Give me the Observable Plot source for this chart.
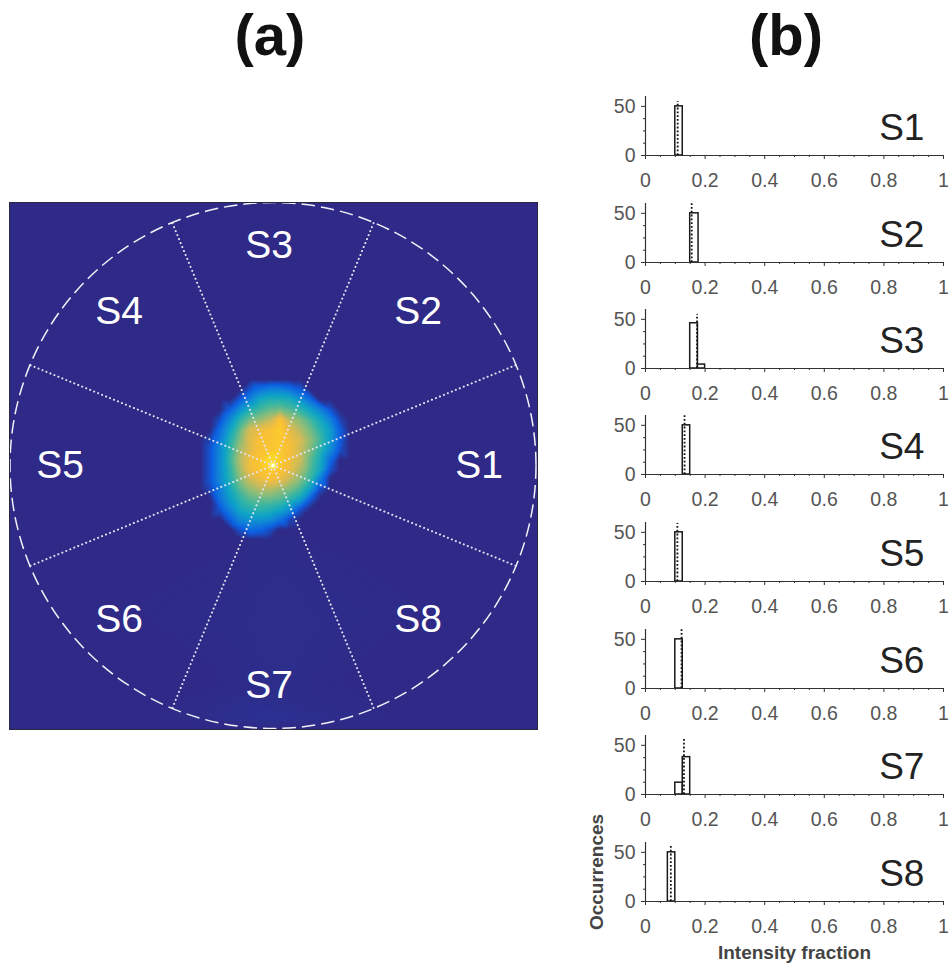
<!DOCTYPE html>
<html><head><meta charset="utf-8">
<script src="https://cdn.jsdelivr.net/npm/d3@7"></script>
<script src="https://cdn.jsdelivr.net/npm/@observablehq/plot@0.6"></script>
<style>
html,body{margin:0;padding:0;background:#fff;}
#page{position:relative;width:949px;height:966px;overflow:hidden;font-family:"Liberation Sans",Arial,sans-serif;}
.hd{position:absolute;top:2px;width:120px;text-align:center;font-weight:bold;font-size:58px;line-height:66px;color:#111;}
.abs{position:absolute;}
svg{overflow:visible;}
</style></head><body><div id="page">
<div class="hd" style="left:210px">(a)</div>
<div class="hd" style="left:726px">(b)</div>
</div>
<script>
// Heat map samples, image coordinates (pixels of the 527x527 detector picture)
const gridX=[190,200,210,220,230,240,250,260,270,280,290,300,310,320,330,340];
const gridY=[177,187,197,207,217,227,237,247,257,267,277,287,297,307,317,327,337];
const gridRows=[
[0,0,0,0,0,0,0,0,0,0,0,0,0,0,0,0],
[0,0,0,0,0,8,16,20,20,16,10,0,0,0,0,0],
[0,0,0,0,9,20,32,36,36,34,25,14,0,0,0,0],
[0,0,0,10,24,36,42,46,48,44,38,30,20,8,0,0],
[0,0,7,22,38,48,52,58,72,56,50,42,32,20,5,0],
[0,0,14,30,46,62,66,70,78,64,56,48,38,28,10,0],
[0,5,18,36,50,64,72,72,76,68,62,52,42,28,10,0],
[0,8,22,38,54,64,72,74,76,70,60,50,38,24,7,0],
[0,8,22,40,56,68,74,88,78,68,60,46,34,14,0,0],
[0,8,22,38,54,68,74,78,74,66,56,44,32,8,0,0],
[0,8,22,36,50,60,66,70,66,58,50,40,18,0,0,0],
[0,5,18,32,44,52,56,56,52,48,42,28,6,0,0,0],
[0,0,15,28,38,44,46,46,44,38,30,10,0,0,0,0],
[0,0,8,20,32,36,38,36,32,24,8,0,0,0,0,0],
[0,0,0,10,22,26,26,24,16,5,0,0,0,0,0,0],
[0,0,0,0,8,14,12,7,0,0,0,0,0,0,0,0],
[0,0,0,0,0,0.4,0.4,0.4,0.4,0.4,0.3,0,0,0,0,0]];
const farX=[0,263,527,0,527,0,263,527,100,430,100,430,200,345,200,345,240,310,280,170,360,263,180,263,350,263,130,395];
const farY=[0,0,0,263,263,527,527,527,100,100,400,400,342,342,480,480,420,420,380,490,490,495,515,515,515,527,520,520];
const farV=[0,0,0,0,0,0,0,0,0,0,0,0,0,0,0,0,.5,.5,.5,0,0,.5,.3,1.3,.3,1,0,0];
const colorStops=[0,10,20,30,40,50,60,70,80,100];
const colorRange=["#2f2a87","#0c5fe2","#1183d8","#0ea4c6","#35b5a4","#86bd7c","#d0bb58","#f8bf38","#fdd02a","#fbf020"];
const rimAngles=[22.5,67.5,112.5,157.5,202.5,247.5,292.5,337.5];
const centerXY=263, radius=263;
const sectorNames=["S1","S2","S3","S4","S5","S6","S7","S8"];
const sectorX=[469,408,259,109,50,109,259,408];
const sectorY=[263,109,43,109,263,417,483,417];

// Histograms
const barLeft=[[0.1],[0.15],[0.15,0.176],[0.125],[0.1],[0.1],[0.1,0.125],[0.075]];
const barRight=[[0.125],[0.178],[0.176,0.2],[0.15],[0.125],[0.125],[0.125,0.15],[0.1]];
const barCount=[[50],[50],[46,4],[50],[50],[50],[12,38],[50]];
const meanValue=[0.108,0.155,0.173,0.131,0.107,0.121,0.129,0.085];
const meanTop=[55,60,55,60,59,60,58,56];
const baselines=[154.5,261.5,367.5,474,581,687.5,794,901];
const xMajor=[0,0.2,0.4,0.6,0.8,1];
const xMinor=[0.05,0.1,0.15,0.25,0.3,0.35,0.45,0.5,0.55,0.65,0.7,0.75,0.85,0.9,0.95];
const yMajor=[0,50];
const yMinor=[12.5,25,37.5];

const page=document.getElementById("page");
const grid=[];
gridRows.forEach((row,j)=>row.forEach((v,i)=>grid.push({x:gridX[i],y:gridY[j],v})));
farX.forEach((x,i)=>grid.push({x,y:farY[i],v:farV[i]}));
const rims=rimAngles.map(a=>({a}));

const heat=Plot.plot({
  width:528,height:527,margin:0,
  style:{background:"transparent",fontFamily:"Liberation Sans"},
  x:{domain:[0,527],range:[0.5,527.5],axis:null},
  y:{domain:[527,0],range:[526.5,0.5],axis:null},
  color:{type:"linear",domain:colorStops,range:colorRange,interpolate:"rgb"},
  marks:[
    Plot.raster(grid,{x:"x",y:"y",fill:"v",interpolate:"barycentric",pixelSize:1}),
    Plot.link(rims,{x1:()=>centerXY,y1:()=>centerXY,
      x2:d=>centerXY+radius*Math.cos(d.a*Math.PI/180),
      y2:d=>centerXY+radius*Math.sin(d.a*Math.PI/180),
      stroke:"#e4e4f2",strokeWidth:2,strokeDasharray:"0.1 4.2",strokeLinecap:"round"}),
    Plot.dot([{x:centerXY,y:centerXY}],{x:"x",y:"y",r:radius,stroke:"#f2f2f8",strokeWidth:1.5,strokeDasharray:"13.5 6"}),
    Plot.dot([{x:centerXY,y:centerXY}],{x:"x",y:"y",r:2.4,fill:"#fffff0",stroke:"#fff060",strokeWidth:1.2}),
    Plot.text(sectorNames,{x:(d,i)=>sectorX[i],y:(d,i)=>sectorY[i],text:d=>d,fill:"#fff",fontSize:39}),
    Plot.frame({stroke:"#2a2a3a",strokeWidth:1})
  ]
});
heat.classList.add("abs");heat.style.left="8.5px";heat.style.top="201.5px";
page.appendChild(heat);

sectorNames.forEach((name,k)=>{
  const last=k===7;
  const bars=barLeft[k].map((l,i)=>({l,r:barRight[k][i],n:barCount[k][i]}));
  const mt=8,mb=last?70:34,ph=59;
  const extras=last?[
    Plot.text(["Intensity fraction"],{frameAnchor:"bottom",text:d=>d,fontSize:19,fontWeight:"bold",fill:"#444",dy:57,dx:0}),
    Plot.text(["Occurrences"],{frameAnchor:"left",text:d=>d,fontSize:19,fontWeight:"bold",fill:"#444",rotate:-90,dx:-49,dy:0,textAnchor:"middle",lineAnchor:"middle"})
  ]:[];
  const p=Plot.plot({
    width:369,height:mt+ph+mb,marginLeft:65,marginRight:6,marginTop:mt,marginBottom:mb,
    style:{background:"transparent",fontFamily:"Liberation Sans"},
    x:{domain:[0,1],axis:null},
    y:{domain:[0,60],axis:null},
    marks:[
      Plot.rect(bars,{x1:"l",x2:"r",y1:()=>0,y2:"n",fill:"#fff",stroke:"#1a1a1a",strokeWidth:1.5}),
      Plot.ruleX([meanValue[k]],{y1:0,y2:meanTop[k],stroke:"#111",strokeWidth:1.8,strokeDasharray:"1.8 2"}),
      Plot.ruleY([0],{stroke:"#333",strokeWidth:1.2}),
      Plot.ruleX([0],{stroke:"#333",strokeWidth:1.2}),
      Plot.axisX({ticks:xMajor,tickFormat:d=>String(d),tickSize:4,tickPadding:14,fontSize:19.5,color:"#555",stroke:"#333",label:null}),
      Plot.axisX({ticks:xMinor,tickSize:2,fill:"none",stroke:"#333",label:null}),
      Plot.axisY({ticks:yMajor,tickSize:4,tickPadding:6,fontSize:19.5,color:"#555",stroke:"#333",label:null}),
      Plot.axisY({ticks:yMinor,tickSize:2,fill:"none",stroke:"#333",label:null}),
      Plot.text([name],{x:()=>0.784,y:()=>28,text:d=>d,textAnchor:"start",fontSize:37,fill:"#222"}),
      ...extras
    ]
  });
  p.classList.add("abs");
  p.style.left="580px";
  p.style.top=(baselines[k]-ph-mt)+"px";
  page.appendChild(p);
});
</script></body></html>
